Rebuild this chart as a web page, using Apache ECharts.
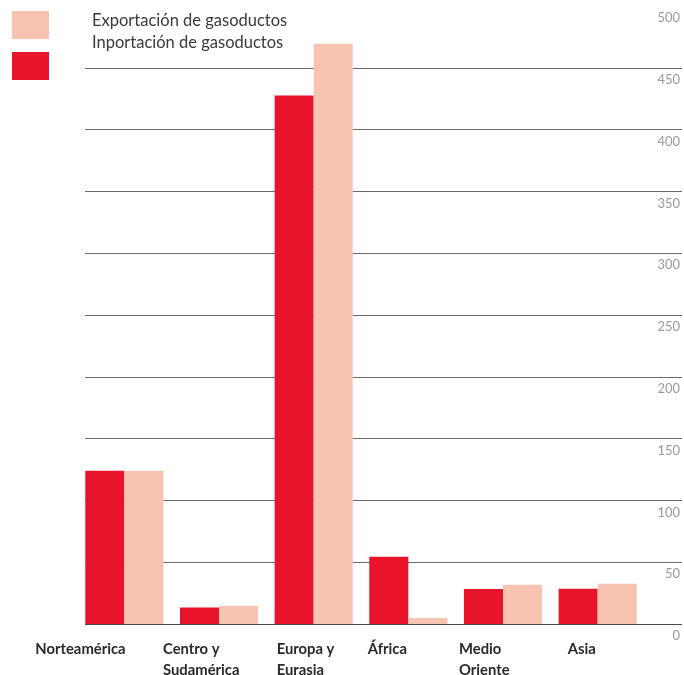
<!DOCTYPE html>
<html>
<head>
<meta charset="utf-8">
<script src="https://cdn.jsdelivr.net/npm/echarts@6/dist/echarts.min.js"></script>
<style>
  html, body { margin: 0; padding: 0; background: #ffffff; }
  #chart { width: 684px; height: 675px; }
</style>
</head>
<body>
<div id="chart"></div>
<script>
// Regions (two-line names use \n)
const regions = ['Norteamérica', 'Centro y\nSudamérica', 'Europa y\nEurasia', 'África', 'Medio\nOriente', 'Asia'];

// Pipeline trade volumes by region
const importName = 'Inportación de gasoductos';
const exportName = 'Exportación de gasoductos';
const importValues = [124, 13.4, 427.5, 54.5, 28.3, 28.6];
const exportValues = [124, 14.8, 469.5, 4.9, 31.8, 32.6];

// Value axis range and step
const axisMin = 0;
const axisMax = 500;
const axisStep = 50;

// Width of the left-aligned label block under each group (block is centred on the tick)
const labelBlockWidths = [178, 112, 74, 81, 88, 60];

const RED = '#e8142c';
const PINK = '#f9c3b2';

const rich = {};
labelBlockWidths.forEach((w, i) => {
  rich['c' + i] = {
    width: w,
    align: 'left',
    fontFamily: 'Lato',
    fontWeight: 'bold',
    fontSize: 14.8,
    lineHeight: 21,
    color: '#2a2a2a'
  };
});

// Gridline colours: baseline darker, top line hidden
const lineColors = [];
for (let v = axisMin; v <= axisMax; v += axisStep) {
  lineColors.push(v === axisMin ? '#4a4a4a' : (v === axisMax ? 'rgba(0,0,0,0)' : '#6a6a6a'));
}

const chart = echarts.init(document.getElementById('chart'), null, { renderer: 'canvas' });

chart.setOption({
  backgroundColor: '#ffffff',
  animation: false,
  color: [RED, PINK],
  legend: [
    {
      // swatches
      orient: 'vertical',
      left: 12,
      top: 11,
      padding: 0,
      itemWidth: 37,
      itemHeight: 28,
      itemGap: 13,
      icon: 'rect',
      selectedMode: false,
      data: [exportName, importName],
      formatter: () => '',
      textStyle: { fontSize: 1 }
    },
    {
      // captions
      orient: 'vertical',
      left: 87,
      top: 10,
      padding: 0,
      itemWidth: 0,
      itemHeight: 0,
      itemGap: 0,
      icon: 'rect',
      selectedMode: false,
      data: [exportName, importName],
      textStyle: {
        fontFamily: 'Lato',
        fontSize: 16.5,
        lineHeight: 22,
        color: '#3a3a3a'
      }
    }
  ],
  grid: [
    { left: 77, right: 39, top: 6, bottom: 51, containLabel: false, outerBoundsMode: 'none' },
    { left: 85, right: 2, top: 6, bottom: 51, containLabel: false, outerBoundsMode: 'none' }
  ],
  xAxis: [
    {
      type: 'category',
      gridIndex: 0,
      data: regions,
      axisLine: { show: false },
      axisTick: { show: false },
      axisLabel: {
        interval: 0,
        margin: 15,
        align: 'center',
        formatter: (value, index) =>
          value.split('\n').map(line => '{c' + index + '|' + line + '}').join('\n'),
        rich: rich
      }
    },
    {
      type: 'value',
      gridIndex: 1,
      show: false
    }
  ],
  yAxis: [
    {
      type: 'value',
      gridIndex: 0,
      min: axisMin,
      max: axisMax,
      interval: axisStep,
      show: false
    },
    {
      type: 'value',
      gridIndex: 1,
      position: 'right',
      min: axisMin,
      max: axisMax,
      interval: axisStep,
      axisLine: { show: false },
      axisTick: { show: false },
      splitLine: { show: true, lineStyle: { color: lineColors, width: 1.2 } },
      axisLabel: {
        inside: true,
        margin: 2,
        verticalAlign: 'top',
        lineHeight: 14,
        padding: [5, 0, 0, 0],
        fontFamily: 'Lato',
        fontSize: 13,
        color: '#9a9a9a'
      }
    }
  ],
  series: [
    {
      name: importName,
      type: 'bar',
      xAxisIndex: 0,
      yAxisIndex: 0,
      data: importValues,
      barGap: '0%',
      barCategoryGap: '17.5%',
      itemStyle: { color: RED },
      z: 3
    },
    {
      name: exportName,
      type: 'bar',
      xAxisIndex: 0,
      yAxisIndex: 0,
      data: exportValues,
      barGap: '0%',
      barCategoryGap: '17.5%',
      itemStyle: { color: PINK },
      z: 3
    }
  ]
});
</script>
</body>
</html>
